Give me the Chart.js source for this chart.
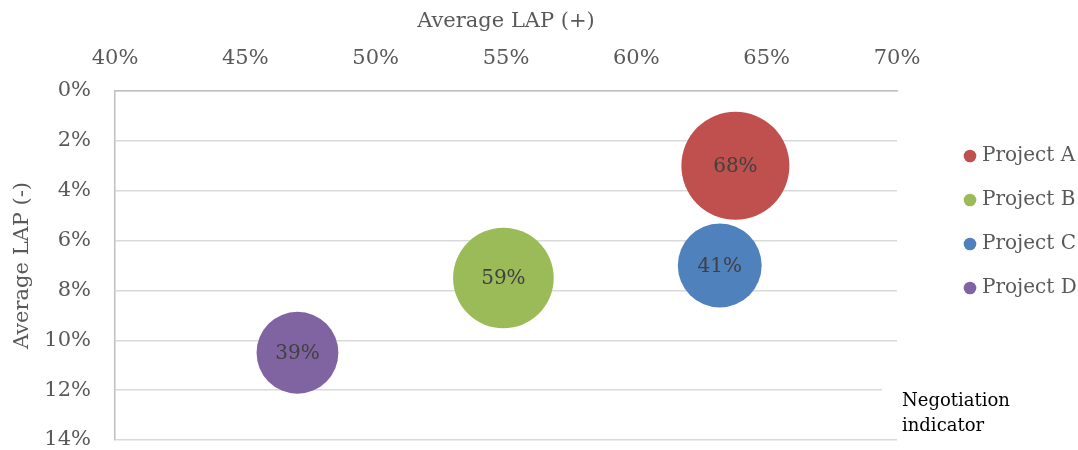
<!DOCTYPE html>
<html>
<head>
<meta charset="utf-8">
<script src="https://cdn.jsdelivr.net/npm/chart.js@4.4.1/dist/chart.umd.min.js"></script>
<style>
  html, body { margin: 0; padding: 0; background: #fff; }
  #wrap { width: 1078px; height: 450px; }
</style>
</head>
<body>
<div id="wrap"><canvas id="bubbleChart"></canvas></div>
<script>
const projects = ['Project A', 'Project B', 'Project C', 'Project D'];
const lapPlus = [63.8, 54.9, 63.2, 47.0];   // eje X (arriba)
const lapMinus = [3.0, 7.5, 7.0, 10.5];     // eje Y (invertido)
const negotiation = [68, 59, 41, 39];       // tamaño de burbuja
const colors = ['#C0504D', '#9BBB59', '#4F81BD', '#8064A2'];
const xTicks = [40, 45, 50, 55, 60, 65, 70];
const yTicks = [0, 2, 4, 6, 8, 10, 12, 14];

const FONT = "'DejaVu Serif', serif";
Chart.defaults.font.family = FONT;
Chart.defaults.font.size = 20;
Chart.defaults.color = '#595959';

// etiquetas dentro de cada burbuja
const bubbleLabels = {
    id: 'bubbleLabels',
    afterDatasetsDraw(chart) {
        const ctx = chart.ctx;
        ctx.save();
        ctx.font = '20px ' + FONT;
        ctx.fillStyle = '#404040';
        ctx.textAlign = 'center';
        ctx.textBaseline = 'middle';
        chart.data.datasets.forEach((ds, i) => {
            const meta = chart.getDatasetMeta(i);
            meta.data.forEach(pt => {
                ctx.fillText(negotiation[i] + '%', pt.x, pt.y + 1);
            });
        });
        ctx.restore();
    }
};

// leyenda a la derecha + nota "Negotiation indicator"
const sideLegend = {
    id: 'sideLegend',
    afterDraw(chart) {
        const ctx = chart.ctx;
        ctx.save();
        ctx.font = '20px ' + FONT;
        ctx.textBaseline = 'middle';
        chart.data.datasets.forEach((ds, i) => {
            const y = 156 + i * 44;
            ctx.fillStyle = ds.backgroundColor;
            ctx.beginPath();
            ctx.arc(970, y, 6.3, 0, Math.PI * 2);
            ctx.fill();
            ctx.fillStyle = '#595959';
            ctx.fillText(ds.label, 982, y);
        });

        ctx.fillStyle = '#ffffff';
        ctx.fillRect(882, 382, 196, 55);
        ctx.fillStyle = '#000000';
        ctx.font = '18px ' + FONT;
        ctx.textBaseline = 'alphabetic';
        ctx.fillText('Negotiation', 902, 406);
        ctx.fillText('indicator', 902, 431);
        ctx.restore();
    }
};

const chart = new Chart(document.getElementById('bubbleChart'), {
    type: 'bubble',
    data: {
        datasets: projects.map((name, i) => ({
            label: name,
            data: [{ x: lapPlus[i], y: lapMinus[i], r: 6.55 * Math.sqrt(negotiation[i]) }],
            backgroundColor: colors[i],
            borderWidth: 0,
            hoverBorderWidth: 0,
            clip: false
        }))
    },
    options: {
        responsive: true,
        maintainAspectRatio: false,
        animation: false,
        layout: { autoPadding: false, padding: { left: 0, top: 0, right: 181, bottom: 10 } },
        plugins: {
            legend: { display: false },
            tooltip: { enabled: false }
        },
        scales: {
            x: {
                position: 'top',
                min: xTicks[0],
                max: xTicks[xTicks.length - 1],
                ticks: {
                    stepSize: xTicks[1] - xTicks[0],
                    padding: 12,
                    maxRotation: 0,
                    font: { size: 21 },
                    callback: v => v + '%'
                },
                grid: { display: false },
                border: { display: true, color: '#bfbfbf', width: 1.5 },
                title: {
                    display: true,
                    text: 'Average LAP (+)',
                    font: { size: 21 },
                    padding: { top: 9, bottom: 0 }
                },
                afterFit(scale) {
                    scale.height = 91;
                    scale.paddingLeft = 0;
                    scale.paddingRight = 0;
                }
            },
            y: {
                reverse: true,
                min: yTicks[0],
                max: yTicks[yTicks.length - 1],
                ticks: {
                    stepSize: yTicks[1] - yTicks[0],
                    padding: 24,
                    font: { size: 21 },
                    callback: v => v + '%'
                },
                grid: { color: '#d9d9d9', lineWidth: 1.5, drawTicks: false },
                border: { display: true, color: '#bfbfbf', width: 1.5 },
                title: {
                    display: true,
                    text: 'Average LAP (-)',
                    font: { size: 21 },
                    padding: { top: 10, bottom: 0 }
                },
                afterFit(scale) {
                    scale.width = 115;
                    scale.paddingTop = 0;
                    scale.paddingBottom = 0;
                }
            }
        }
    },
    plugins: [bubbleLabels, sideLegend]
});
</script>
</body>
</html>
